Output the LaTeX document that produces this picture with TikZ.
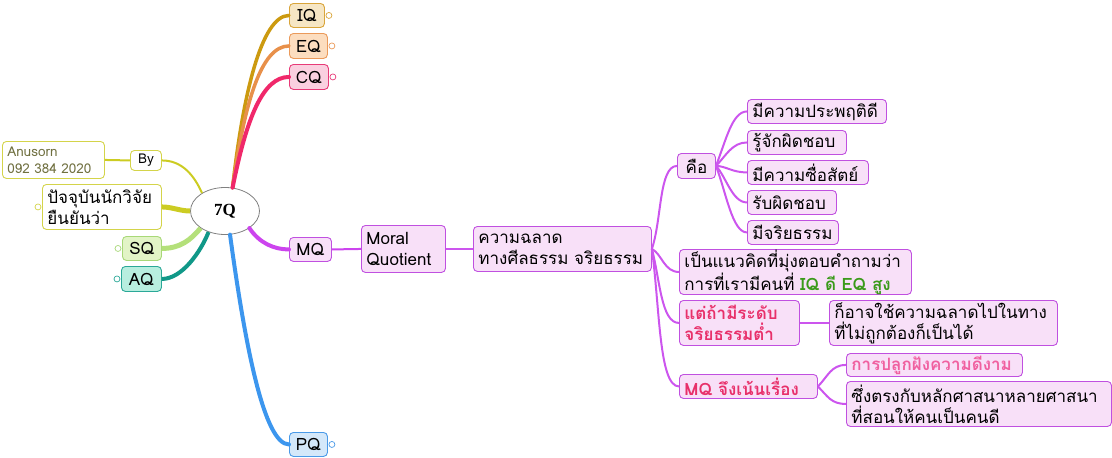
\documentclass[tikz,border=0pt]{standalone}
\usepackage{fontspec}
\setmainfont[Script=Thai]{Loma}
\newfontfamily\serifb{Liberation Serif}
\usetikzlibrary{calc,shapes.geometric}
\definecolor{iqf}{HTML}{F6E6C4}\definecolor{iqd}{HTML}{D9A53A}\definecolor{iql}{HTML}{CC9A10}
\definecolor{eqf}{HTML}{FCDDBF}\definecolor{eqd}{HTML}{EB9A5A}\definecolor{eql}{HTML}{E8904A}
\definecolor{cqf}{HTML}{FAD0E0}\definecolor{cqd}{HTML}{E83A78}\definecolor{cql}{HTML}{F0286A}
\definecolor{ybd}{HTML}{D4D44A}\definecolor{ybl}{HTML}{CCCC22}\definecolor{ybt}{HTML}{707040}
\definecolor{sqf}{HTML}{E2F4C6}\definecolor{sqd}{HTML}{A8D878}\definecolor{sql}{HTML}{B4E07A}
\definecolor{aqf}{HTML}{B8EEDF}\definecolor{aqd}{HTML}{2AA898}\definecolor{aql}{HTML}{109888}
\definecolor{mf}{HTML}{F8E0F8}\definecolor{md}{HTML}{C050E0}\definecolor{ml}{HTML}{CC44EE}\definecolor{mcl}{HTML}{CC55EE}
\definecolor{pqf}{HTML}{D4E8FA}\definecolor{pqd}{HTML}{4A9AE8}\definecolor{pql}{HTML}{3C96EE}
\definecolor{hot}{HTML}{E8306A}\definecolor{hot2}{HTML}{F060A0}\definecolor{grn}{HTML}{3A9A1A}
\newcommand\fs{\fontsize{17}{21}\selectfont}
\newcommand\mmc[5][]{\draw[#1] (#2) .. controls ($(#2)+(#3)$) and ($(#4)+(#5)$) .. (#4);}
\tikzset{
  bx/.style={draw, rounded corners=4pt, line width=0.9pt, inner xsep=5pt, inner ysep=0pt,
    anchor=north west, align=left, font=\fs},
  qb/.style={bx, align=center, inner xsep=0pt},
  mbx/.style={bx, fill=mf, draw=md},
  coll/.style={circle, draw, fill=white, inner sep=0pt, minimum size=6pt, line width=0.7pt},
  thk/.style={line width=4pt, line cap=round},
  thn/.style={line width=2pt, mcl},
}
\begin{document}
\begin{tikzpicture}[x=1pt,y=-1pt]
\useasboundingbox (0,0) rectangle (1112,458);
% centre
\node[ellipse, draw=gray, fill=white, line width=0.8pt, minimum width=69, minimum height=47,
  font=\serifb\bfseries\fontsize{17}{18}\selectfont] (q) at (225,211) {7Q};
% first level
\node[qb, fill=iqf, draw=iqd, minimum width=35, minimum height=24] (iq) at (289,3) {IQ};
\node[qb, fill=eqf, draw=eqd, minimum width=38, minimum height=25] (eq) at (289,33) {EQ};
\node[qb, fill=cqf, draw=cqd, minimum width=39, minimum height=25] (cq) at (289,64) {CQ};
\node[qb, fill=white, draw=ybd, minimum width=31, minimum height=20, font=\fontsize{13.5}{16}\selectfont] (by) at (130,150) {By};
\node[bx, fill=white, draw=ybd, text width=92, minimum height=37, text=ybt, font=\fontsize{13.5}{17}\selectfont] (an) at (2,141) {Anusorn\\092 384 2020};
\node[bx, fill=white, draw=ybd, text width=109, minimum height=45] (pj) at (42,184) {ปัจจุบันนักวิจัย\\ยืนยันว่า};
\node[qb, fill=sqf, draw=sqd, minimum width=39, minimum height=24] (sq) at (122,236) {SQ};
\node[qb, fill=aqf, draw=aqd, minimum width=40, minimum height=25] (aq) at (121,266) {AQ};
\node[qb, fill=mf, draw=md, minimum width=42, minimum height=24] (mq) at (289,237) {MQ};
\node[qb, fill=pqf, draw=pqd, minimum width=38, minimum height=24] (pq) at (289,432) {PQ};
% MQ branch
\node[mbx, text width=74, minimum height=47] (mo) at (361,225) {Moral\\Quotient};
\node[mbx, text width=168, minimum height=45] (kw) at (473,226) {ความฉลาด\\ทางศีลธรรม จริยธรรม};
\node[qb, fill=mf, draw=md, minimum width=38, minimum height=25] (ku) at (677,153) {คือ};
\node[mbx, text width=129, minimum height=24] (c1) at (747,99) {มีความประพฤติดี};
\node[mbx, text width=89, minimum height=24] (c2) at (747,130) {รู้จักผิดชอบ};
\node[mbx, text width=111, minimum height=24] (c3) at (747,160) {มีความซื่อสัตย์};
\node[mbx, text width=79, minimum height=24] (c4) at (747,190) {รับผิดชอบ};
\node[mbx, text width=81, minimum height=24] (c5) at (747,220) {มีจริยธรรม};
\node[mbx, text width=222, minimum height=45] (pe) at (679,249) {เป็นแนวคิดที่มุ่งตอบคำถามว่า\\การที่เรามีคนที่ {\bfseries\color{grn}IQ ดี EQ สูง}};
\node[mbx, text width=110, minimum height=45, text=hot, font=\fs\bfseries] (ta) at (679,300) {แต่ถ้ามีระดับ\\จริยธรรมต่ำ};
\node[mbx, text width=218, minimum height=45] (ko) at (829,300) {ก็อาจใช้ความฉลาดไปในทาง\\ที่ไม่ถูกต้องก็เป็นได้};
\node[mbx, text width=128, minimum height=24, text=hot, font=\fs\bfseries] (mj) at (679,374) {MQ จึงเน้นเรื่อง};
\node[mbx, text width=166, minimum height=23, text=hot2, font=\fs\bfseries] (ka) at (846,353) {การปลูกฝังความดีงาม};
\node[mbx, text width=255, minimum height=45] (su) at (846,381) {ซึ่งตรงกับหลักศาสนาหลายศาสนา\\ที่สอนให้คนเป็นคนดี};
% collapse markers
\node[coll, draw=iqd] (iqc) at ($(iq.east)+(4,0)$) {};
\node[coll, draw=eqd] (eqc) at ($(eq.east)+(4,0)$) {};
\node[coll, draw=cqd] (cqc) at ($(cq.east)+(4,0)$) {};
\node[coll, draw=pqd] (pqc) at ($(pq.east)+(4,0)$) {};
\node[coll, draw=ybd] (pjc) at ($(pj.west)+(-4,0)$) {};
\node[coll, draw=sqd] (sqc) at ($(sq.west)+(-4,0)$) {};
\node[coll, draw=aqd] (aqc) at ($(aq.west)+(-4,0)$) {};
% main branches
\mmc[thk, iql, line width=3.5pt]{q.72}{10,-90}{iq.west}{-28,0}
\mmc[thk, eql, line width=3.5pt]{q.72}{12,-85}{eq.west}{-28,0}
\mmc[thk, cql]{q.72}{14,-70}{cq.west}{-26,0}
\mmc[thk, ml]{q.-35}{10,15}{mq.west}{-15,0}
\mmc[thk, pql]{q.-78}{15,110}{pq.west}{-25,0}
\mmc[line width=2pt, ybl]{q.142}{-8,-18}{by.east}{20,0}
\mmc[thk, ybl, line width=5pt, line cap=butt]{q.180}{-10,0}{pj.east}{10,0}
\mmc[thk, sql, line width=5pt, line cap=butt]{q.215}{-10,12}{sq.east}{18,0}
\mmc[thk, aql, line cap=butt]{q.232}{-8,20}{aq.east}{20,0}
\draw[line width=2pt, ybl] (an.east) -- (by.west);
% MQ sub-branches
\draw[line width=2pt, ml] (mq.east) -- (mo.west);
\draw[thn] (mo.east) -- (kw.west);
\mmc[thn]{kw.east}{10,-30}{ku.west}{-18,0}
\mmc[thn]{kw.east}{10,5}{pe.west}{-15,0}
\mmc[thn]{kw.east}{8,30}{ta.west}{-18,0}
\mmc[thn]{kw.east}{8,60}{mj.west}{-20,0}
\mmc[thn]{ku.east}{10,-25}{c1.west}{-15,0}
\mmc[thn]{ku.east}{10,-10}{c2.west}{-15,0}
\mmc[thn]{ku.east}{10,0}{c3.west}{-15,0}
\mmc[thn]{ku.east}{10,10}{c4.west}{-15,0}
\mmc[thn]{ku.east}{10,25}{c5.west}{-15,0}
\draw[thn] (ta.east) -- (ko.west);
\mmc[thn]{mj.east}{10,-10}{ka.west}{-15,0}
\mmc[thn]{mj.east}{10,10}{su.west}{-15,0}
\end{tikzpicture}
\end{document}
